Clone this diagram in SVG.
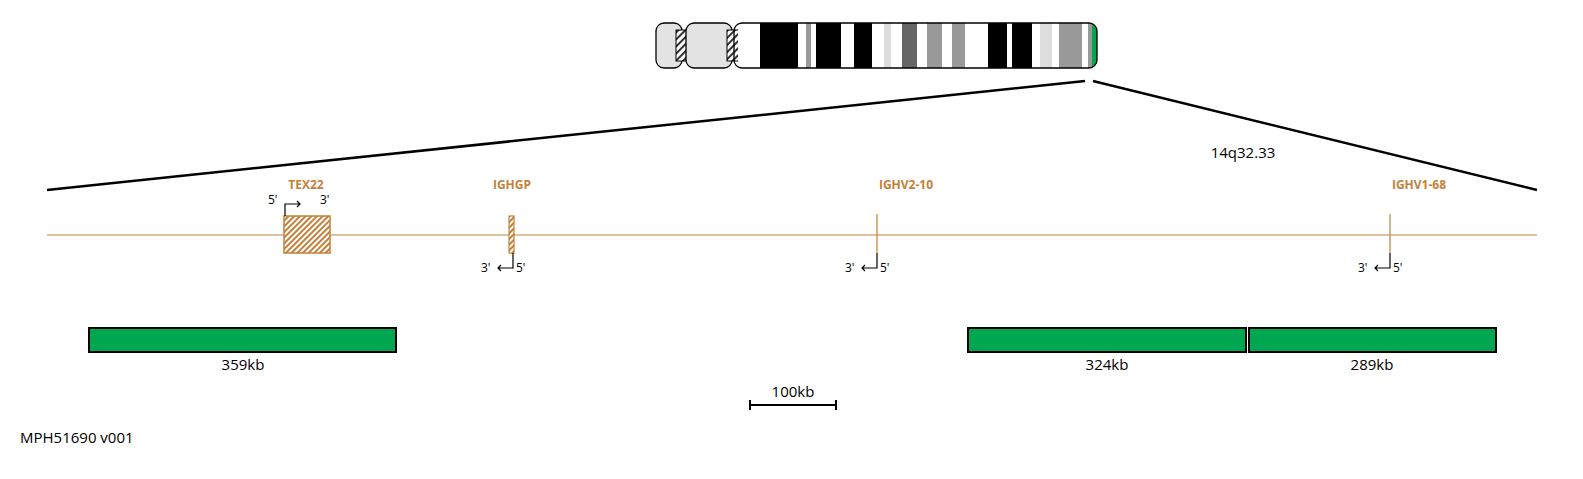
<svg xmlns="http://www.w3.org/2000/svg" width="1583" height="479" viewBox="0 0 1583 479">
<style>
text{font-family:"Open Sans","Liberation Sans",sans-serif}
.g{fill:#c2813a;font-size:12px;font-weight:bold;text-anchor:middle}
.s{font-size:12px;fill:#000}
.k{font-size:15px;fill:#000;text-anchor:middle}
.bar{fill:#00a650;stroke:#000;stroke-width:2}
.ar{fill:none;stroke:#000;stroke-width:1.2}
</style>
<defs>
<pattern id="h" width="5" height="5" patternUnits="userSpaceOnUse" patternTransform="rotate(45)"><rect width="5" height="5" fill="#fff"/><rect width="2" height="5" fill="#333"/></pattern>
<pattern id="o" width="4" height="4" patternUnits="userSpaceOnUse" patternTransform="rotate(45)"><rect width="4" height="4" fill="#fff"/><rect width="2" height="4" fill="#c2813a"/></pattern>
<clipPath id="q"><rect x="738" y="23" width="359" height="45" rx="8"/></clipPath>
</defs>
<rect width="1583" height="479" fill="#fff"/>
<g id="chromosome">
<rect x="656" y="23" width="26" height="45" rx="8" fill="#e3e3e3" stroke="#000" stroke-width="1.3"/>
<rect x="676" y="30" width="14" height="31" fill="url(#h)" stroke="#000"/>
<rect x="686" y="23" width="46" height="45" rx="8" fill="#e3e3e3" stroke="#000" stroke-width="1.3"/>
<rect x="727" y="30" width="12" height="31" fill="url(#h)" stroke="#000"/>
<g clip-path="url(#q)">
<rect x="738" y="23" width="359" height="45" fill="#fff"/>
<rect x="760" y="23" width="38" height="45" fill="#000"/>
<rect x="806" y="23" width="5" height="45" fill="#999"/>
<rect x="816" y="23" width="25" height="45" fill="#000"/>
<rect x="854" y="23" width="18" height="45" fill="#000"/>
<rect x="884" y="23" width="7" height="45" fill="#ddd"/>
<rect x="902" y="23" width="15" height="45" fill="#666"/>
<rect x="927" y="23" width="15" height="45" fill="#999"/>
<rect x="952" y="23" width="13" height="45" fill="#999"/>
<rect x="988" y="23" width="19" height="45" fill="#000"/>
<rect x="1012" y="23" width="20" height="45" fill="#000"/>
<rect x="1040" y="23" width="12" height="45" fill="#ddd"/>
<rect x="1059" y="23" width="23" height="45" fill="#999"/>
<rect x="1088" y="23" width="4" height="45" fill="#999"/>
<rect x="1092" y="23" width="13" height="45" fill="#00a650"/>
</g>
<rect x="734" y="23" width="363" height="45" rx="8" fill="none" stroke="#000" stroke-width="1.3"/>
</g>
<g id="connectors">
<line x1="47" y1="190" x2="1085" y2="81" stroke="#000" stroke-width="2.5"/>
<line x1="1093" y1="81" x2="1537" y2="190" stroke="#000" stroke-width="2.5"/>
<line x1="47" y1="235" x2="1537" y2="235" stroke="#c2813a" stroke-width="1"/>
</g>
<text x="1243" y="158" class="k">14q32.33</text>
<g id="TEX22">
<text x="306" y="189" class="g">TEX22</text>
<rect x="284" y="216" width="46" height="37" fill="url(#o)" stroke="#c2813a" stroke-width="1.5"/>
<path class="ar" d="M285 216V204H300M297 201l3 3-3 3"/>
<text x="268" y="204" class="s">5'</text><text x="320" y="204" class="s">3'</text>
</g>
<g id="IGHGP">
<text x="512" y="189" class="g">IGHGP</text>
<rect x="509" y="216" width="5" height="37" fill="url(#o)" stroke="#c2813a" stroke-width="1.2"/>
<path class="ar" d="M513 253V268H498M501 265l-3 3 3 3"/>
<text x="481" y="272" class="s">3'</text><text x="516" y="272" class="s">5'</text>
</g>
<g id="IGHV2-10">
<text x="906" y="189" class="g">IGHV2-10</text>
<line x1="877" y1="214" x2="877" y2="253" stroke="#c2813a" stroke-width="1.2"/>
<path class="ar" d="M877 253V268H862M865 265l-3 3 3 3"/>
<text x="845" y="272" class="s">3'</text><text x="880" y="272" class="s">5'</text>
</g>
<g id="IGHV1-68">
<text x="1419" y="189" class="g">IGHV1-68</text>
<line x1="1390" y1="214" x2="1390" y2="253" stroke="#c2813a" stroke-width="1.2"/>
<path class="ar" d="M1390 253V268H1375M1378 265l-3 3 3 3"/>
<text x="1358" y="272" class="s">3'</text><text x="1393" y="272" class="s">5'</text>
</g>
<g id="cnv1"><rect x="89" y="328" width="307" height="24" class="bar"/><text x="243" y="370" class="k">359kb</text></g>
<g id="cnv2"><rect x="968" y="328" width="278" height="24" class="bar"/><text x="1107" y="370" class="k">324kb</text></g>
<g id="cnv3"><rect x="1249" y="328" width="247" height="24" class="bar"/><text x="1372" y="370" class="k">289kb</text></g>
<g id="scale">
<text x="793" y="397" class="k">100kb</text>
<path d="M750 400v10M750 405H836M836 400v10" stroke="#000" stroke-width="2" fill="none"/>
</g>
<text x="20" y="443" style="font-size:15px">MPH51690 v001</text>
</svg>
